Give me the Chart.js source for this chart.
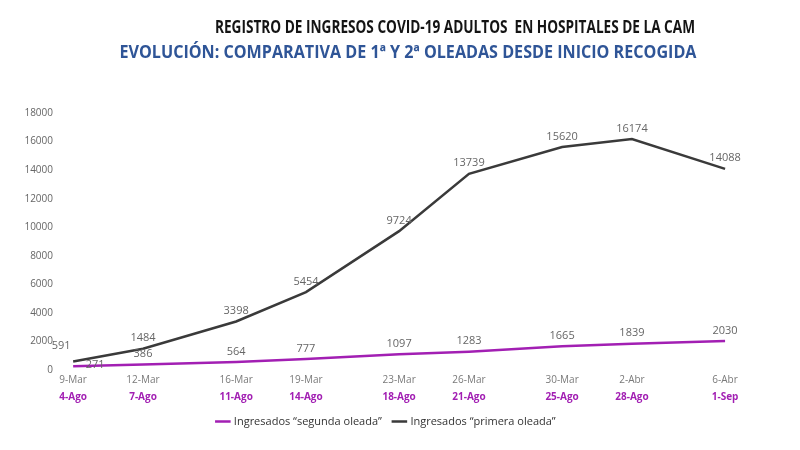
<!DOCTYPE html>
<html>
<head>
<meta charset="utf-8">
<script src="https://cdn.jsdelivr.net/npm/chart.js@4"></script>
<style>
  html, body { margin: 0; padding: 0; background: #fff; }
  #wrap { width: 800px; height: 450px; }
</style>
</head>
<body>
<div id="wrap"><canvas id="chart"></canvas></div>
<script>
// DATA
const dayOffsets = [0, 3, 7, 10, 14, 17, 21, 24, 28];
const firstWaveDates = ['9-Mar', '12-Mar', '16-Mar', '19-Mar', '23-Mar', '26-Mar', '30-Mar', '2-Abr', '6-Abr'];
const secondWaveDates = ['4-Ago', '7-Ago', '11-Ago', '14-Ago', '18-Ago', '21-Ago', '25-Ago', '28-Ago', '1-Sep'];
const firstWave = [591, 1484, 3398, 5454, 9724, 13739, 15620, 16174, 14088];
const secondWave = [271, 386, 564, 777, 1097, 1283, 1665, 1839, 2030];

const titleText = 'REGISTRO DE INGRESOS COVID-19 ADULTOS  EN HOSPITALES DE LA CAM';
const subtitleText = 'EVOLUCI\u00d3N: COMPARATIVA DE 1\u00aa Y 2\u00aa OLEADAS DESDE INICIO RECOGIDA';

const PURPLE = '#a21fb3';
const DARK = '#3a3a3a';
const GREY = '#666';
const FONT = "'Open Sans', 'Noto Sans', sans-serif";

function toPoints(values) {
	return values.map((v, i) => ({ x: dayOffsets[i], y: v }));
}

function setDayTicks(scale) {
	scale.ticks = dayOffsets.map(d => ({ value: d }));
}

// the original uses a narrow font (Calibri), so squeeze the heading text
function drawCondensed(ctx, text, cx, cy, width, color) {
	ctx.save();
	ctx.font = "bold 18px " + FONT;
	const w = ctx.measureText(text).width;
	ctx.translate(cx, cy);
	ctx.scale(width / w, 1);
	ctx.textAlign = 'center';
	ctx.textBaseline = 'middle';
	ctx.fillStyle = color;
	ctx.fillText(text, 0, 0);
	ctx.restore();
}

const headerTitles = {
	id: 'headerTitles',
	afterDraw(chart) {
		drawCondensed(chart.ctx, titleText, 455, 28, 480, '#141414');
		drawCondensed(chart.ctx, subtitleText, 408, 53, 577, '#2f5597');
	}
};

// value labels above each point
const valueLabels = {
	id: 'valueLabels',
	afterDatasetsDraw(chart) {
		const ctx = chart.ctx;
		ctx.save();
		ctx.font = "11px " + FONT;
		ctx.fillStyle = GREY;
		ctx.textAlign = 'center';
		ctx.textBaseline = 'bottom';
		chart.data.datasets.forEach((ds, i) => {
			const meta = chart.getDatasetMeta(i);
			meta.data.forEach((pt, j) => {
				let dx = 0, dy = -5;
				// first points overlap, move them apart like the original
				if (i === 0 && j === 0) { dx = 22; dy = 4; }
				if (i === 1 && j === 0) { dx = -12; dy = -10; }
				ctx.fillText(ds.data[j].y, pt.x + dx, pt.y + dy);
			});
		});
		ctx.restore();
	}
};

const ctx = document.getElementById('chart').getContext('2d');

new Chart(ctx, {
	type: 'line',
	data: {
		datasets: [
			{
				label: 'Ingresados \u201csegunda oleada\u201d',
				data: toPoints(secondWave),
				borderColor: PURPLE,
				backgroundColor: PURPLE,
				borderWidth: 2.5,
				pointRadius: 0,
				pointStyle: 'line',
				tension: 0,
			},
			{
				label: 'Ingresados \u201cprimera oleada\u201d',
				data: toPoints(firstWave),
				borderColor: DARK,
				backgroundColor: DARK,
				borderWidth: 2.5,
				pointRadius: 0,
				pointStyle: 'line',
				tension: 0,
			},
		],
	},
	options: {
		responsive: true,
		maintainAspectRatio: false,
		animation: false,
		layout: { padding: { left: 13, right: 40, top: 113, bottom: 13 } },
		plugins: {
			title: { display: false },
			legend: {
				position: 'bottom',
				labels: {
					usePointStyle: true,
					boxWidth: 16,
					padding: 12,
					color: '#333',
					font: { family: FONT, size: 11 },
				},
			},
			tooltip: { enabled: false },
		},
		scales: {
			x: {
				type: 'linear',
				position: 'bottom',
				min: -0.35,
				max: 29.5,
				afterBuildTicks: setDayTicks,
				grid: { display: false, drawTicks: false },
				border: { display: false },
				ticks: {
					autoSkip: false,
					maxRotation: 0,
					padding: 4,
					color: '#7a7a7a',
					font: { family: FONT, size: 10 },
					callback: v => firstWaveDates[dayOffsets.indexOf(v)],
				},
			},
			x2: {
				type: 'linear',
				position: 'bottom',
				min: -0.35,
				max: 29.5,
				afterBuildTicks: setDayTicks,
				grid: { display: false, drawTicks: false },
				border: { display: false },
				ticks: {
					autoSkip: false,
					maxRotation: 0,
					padding: 1,
					color: PURPLE,
					font: { family: FONT, size: 10, weight: 'bold' },
					callback: v => secondWaveDates[dayOffsets.indexOf(v)],
				},
			},
			y: {
				min: 0,
				max: 18000,
				afterFit: scale => { scale.width = 52; },
				grid: { display: false, drawTicks: false },
				border: { display: false },
				ticks: {
					stepSize: 2000,
					padding: 12,
					color: GREY,
					font: { family: FONT, size: 10 },
					callback: v => v,
				},
			},
		},
	},
	plugins: [valueLabels, headerTitles],
});
</script>
</body>
</html>
